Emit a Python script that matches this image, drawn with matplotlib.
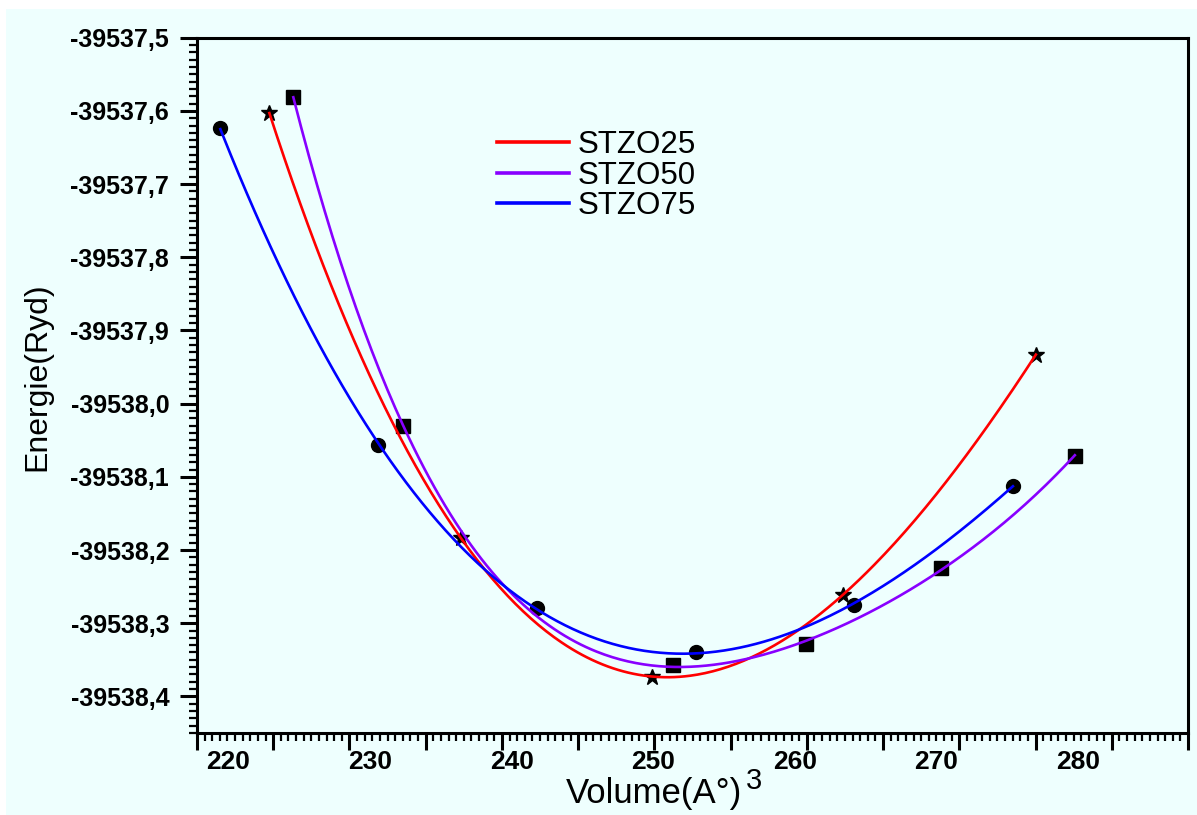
import numpy as np
import matplotlib
matplotlib.use("Agg")
import matplotlib.pyplot as plt
from matplotlib.patches import Rectangle
from matplotlib.ticker import FixedLocator, FuncFormatter

# Données (volume en A°^3, énergie en Ryd)
v25 = [222.9, 236.44, 249.92, 263.4, 277.02]
e25 = [-39537.603, -39538.184, -39538.373, -39538.261, -39537.933]

v50 = [224.59, 232.35, 251.40, 260.79, 270.32, 279.77]
e50 = [-39537.581, -39538.031, -39538.357, -39538.328, -39538.225, -39538.071]

v75 = [219.44, 230.59, 241.81, 253.03, 264.18, 275.40]
e75 = [-39537.624, -39538.057, -39538.279, -39538.340, -39538.275, -39538.112]

noms = ["STZO25", "STZO50", "STZO75"]
couleurs = ["#ff0000", "#8800ff", "#0000ff"]
marqueurs = ["*", "s", "o"]
degres = [3, 4, 3]

xticks_labels = [220, 230, 240, 250, 260, 270, 280]
yticks = [-39537.5, -39537.6, -39537.7, -39537.8, -39537.9,
          -39538.0, -39538.1, -39538.2, -39538.3, -39538.4]

#--------------------------------------------------------------------------------------------------------------------#

plt.rcParams['font.family'] = ['Liberation Sans', 'DejaVu Sans']

fig = plt.figure(figsize=(11.97, 8.15), dpi=100)
fig.patch.set_facecolor("white")
# fond cyan clair (avec une petite marge blanche en haut et à gauche)
fig.patches.append(Rectangle((6 / 1197, 0), 1, 1 - 9 / 815, transform=fig.transFigure,
                             facecolor="#eefffe", edgecolor="none", zorder=-10))

ax = fig.add_axes([197 / 1197, 82 / 815, (1188 - 197) / 1197, (733 - 37.7) / 815])
ax.set_facecolor("#eefffe")

xlo, xhi = 217.79, 287.76
ylo, yhi = -39538.45, -39537.5

# Courbes ajustées (polynôme) + points
for v, e, nom, c, m, d in zip([v25, v50, v75], [e25, e50, e75], noms, couleurs, marqueurs, degres):
    v = np.array(v)
    e = np.array(e)
    coef = np.polyfit(v - 250, e + 39538, d)
    xs = np.linspace(v.min(), v.max(), 300)
    ax.plot(xs, np.polyval(coef, xs - 250) - 39538, color=c, lw=1.9, label=nom, zorder=3)
    ms = 12 if m == "*" else 10
    ax.plot(v, e, linestyle="none", marker=m, color="black", markersize=ms, zorder=2)

ax.set_xlim(xlo, xhi)
ax.set_ylim(ylo, yhi)

# Axes style Origin
for s in ax.spines.values():
    s.set_linewidth(2.2)

# marques de graduation x (ne coïncident pas avec les étiquettes sur l'original)
ax.xaxis.set_major_locator(FixedLocator(np.linspace(xlo, xhi, 14)))
ax.xaxis.set_minor_locator(FixedLocator(np.linspace(xlo, xhi, 131)))
ax.xaxis.set_major_formatter(FuncFormatter(lambda x, p: ""))
ax.tick_params(axis="x", which="major", direction="out", length=12, width=2.2)
ax.tick_params(axis="x", which="minor", direction="out", length=6, width=1.6)

secx = ax.secondary_xaxis("bottom")
secx.set_xticks(xticks_labels)
secx.tick_params(length=0, pad=12, labelsize=19)
secx.spines["bottom"].set_visible(False)
for t in secx.get_xticklabels():
    t.set_fontweight("bold")

ax.set_yticks(yticks)
ax.yaxis.set_minor_locator(FixedLocator(np.round(np.arange(-39538.45, -39537.495, 0.01), 2)))
ax.set_yticklabels([f"{y:.1f}".replace(".", ",") for y in yticks], fontsize=18, fontweight="bold")
ax.tick_params(axis="y", which="major", direction="out", length=12, width=2.2, pad=8)
ax.tick_params(axis="y", which="minor", direction="out", length=6, width=1.6)

# Titres des axes
fig.text(654 / 1197, 1 - 794 / 815, "Volume(A°)", fontsize=25, ha="center", va="center")
fig.text(754 / 1197, 1 - 781 / 815, "3", fontsize=21, ha="center", va="center")
fig.text(37 / 1197, 1 - 377 / 815, "Energie(Ryd)", fontsize=23, rotation=90, ha="center", va="center")

leg = ax.legend(loc="upper left", bbox_to_anchor=(0.303, 0.867), frameon=False, fontsize=22.5,
                handlelength=2.3, handletextpad=0.28, labelspacing=0.02, borderpad=0, borderaxespad=0)
for l in leg.get_lines():
    l.set_linewidth(2.6)

plt.savefig("out.png", dpi=100, facecolor=fig.get_facecolor())
